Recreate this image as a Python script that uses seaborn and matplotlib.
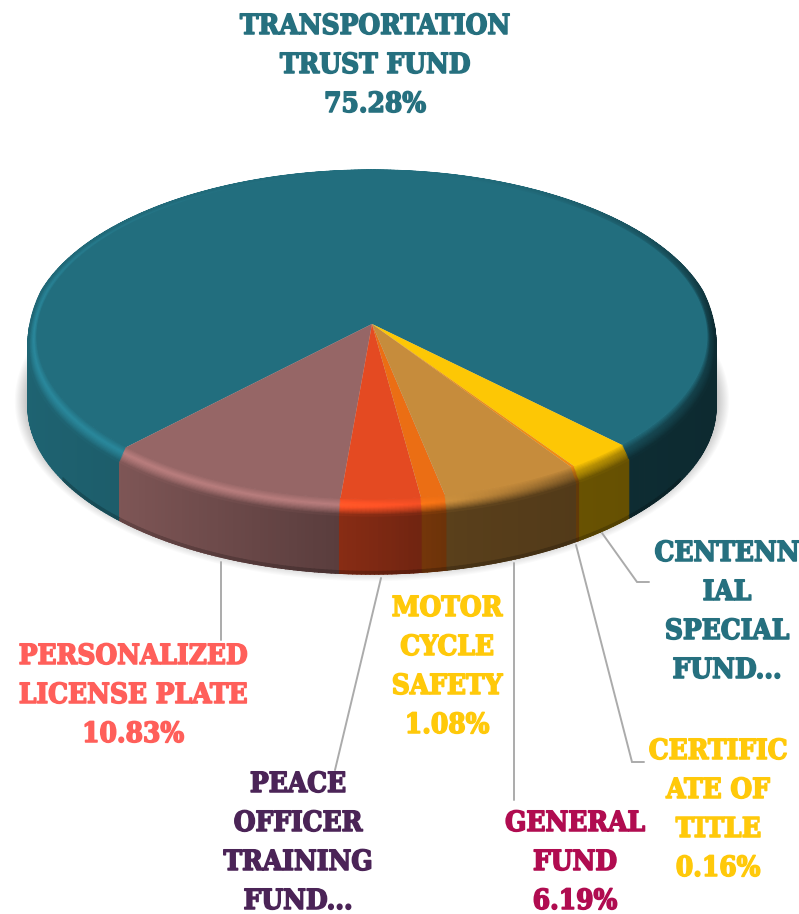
#!/usr/bin/env python3
import numpy as np
import matplotlib
matplotlib.use("Agg")
import matplotlib.pyplot as plt
import matplotlib.patheffects as pe
import seaborn as sns
from matplotlib.collections import PolyCollection
from matplotlib.colors import to_rgb
from matplotlib.transforms import Transform

# data
funds = ["Transportation Trust Fund", "Personalized License Plate",
         "Peace Officer Training Fund", "Motor Cycle Safety", "General Fund",
         "Certificate of Title", "Centennial Special Fund"]
shares = [75.28, 10.83, 3.55, 1.08, 6.19, 0.16, 2.91]
slice_colors = ["#226E7E", "#966666", "#E44A22", "#EB6E14", "#C68C3C", "#F08C14", "#FDC705"]

label_lines = [["TRANSPORTATION", "TRUST FUND", "75.28%"],
               ["PERSONALIZED", "LICENSE PLATE", "10.83%"],
               ["PEACE", "OFFICER", "TRAINING", "FUND..."],
               ["MOTOR", "CYCLE", "SAFETY", "1.08%"],
               ["GENERAL", "FUND", "6.19%"],
               ["CERTIFIC", "ATE OF", "TITLE", "0.16%"],
               ["CENTENN", "IAL", "SPECIAL", "FUND..."]]
label_colors = ["#26707F", "#FF5F5A", "#4B2457", "#FFC90A", "#B00C50", "#FFC90A", "#26707F"]

# layout, in pixels of the picture
label_x = [375, 133, 298, 447, 575, 718, 727]
label_base = [34, 664, 792, 616, 831, 759, 561]
line_step = 39
leaders = [([221, 221], [562, 640]),
           ([381, 335], [578, 770]),
           ([514, 514], [563, 800]),
           ([576, 632, 644], [545, 762, 762]),
           ([602, 637, 649], [533, 582, 582])]

CX, CY, RX, RY = 372, 337, 344, 167
TILT = -0.078       # moves the apex up from the middle of the ellipse
DEPTH = 70
BEVEL = 12
FACE_R = 0.975


def project(xy):
    """Perspective of the unit circle onto the tilted disc."""
    u, s = xy[..., 0], -xy[..., 1]
    den = 1 + TILT * s
    x = CX + RX * u * np.sqrt(1 - TILT ** 2) / den
    y = CY + RY * (s + TILT) / den
    return np.stack([x, y], axis=-1)


class DiscTransform(Transform):
    input_dims = output_dims = 2
    has_inverse = False

    def transform_non_affine(self, values):
        return project(np.asarray(values, dtype=float))


def wall_shade(x):
    return np.interp(x, [30, 125, 340, 450, 580, 716], [0.9, 0.85, 0.6, 0.45, 0.41, 0.38])


def rim_light(x):
    return np.interp(x, [30, 340, 450, 560, 716], [0.24, 0.22, 0.02, -0.25, -0.45])


def circle_points(theta, r):
    return project(np.stack([r * np.cos(theta), r * np.sin(theta)], axis=-1))


def add_band(ax, theta, r0, z0, r1, z1, color_fn, zorder):
    """Strip of small quads between two offset arcs, coloured along x."""
    a = circle_points(theta, r0)
    b = circle_points(theta, r1)
    a[:, 1] += z0(theta)
    b[:, 1] += z1(theta)
    polys = [[a[i], a[i + 1], b[i + 1], b[i]] for i in range(len(theta) - 1)]
    mid = (theta[:-1] + theta[1:]) / 2
    colors = np.clip(color_fn(CX + RX * np.cos(mid), -np.sin(mid)), 0, 1)
    ax.add_collection(PolyCollection(polys, facecolors=colors, edgecolors=colors,
                                     linewidths=0.9, zorder=zorder))


def runs(theta, mask):
    """Contiguous stretches of theta where mask holds."""
    idx = np.flatnonzero(mask)
    if len(idx) < 2:
        return []
    parts = np.split(idx, np.flatnonzero(np.diff(idx) > 1) + 1)
    return [theta[p] for p in parts if len(p) > 1]


sns.set_theme(style="white")
fig, ax = plt.subplots(figsize=(7.99, 9.14))
fig.subplots_adjust(0, 0, 1, 1)

wedges, _ = ax.pie(shares, colors=sns.color_palette(slice_colors), startangle=-45,
                   radius=FACE_R, labeldistance=None)
ax.set_aspect("auto")
ax.set_xlim(0, 799)
ax.set_ylim(914, 0)
ax.axis("off")

to_disc = DiscTransform()
for w in wedges:
    w.set_transform(to_disc + ax.transData)
    w.set_zorder(5)
    w.set_linewidth(0)

# soft shadow under the disc
ring = np.linspace(0, 2 * np.pi, 200)
for k in range(12, 0, -1):
    pts = circle_points(ring, 1.0)
    pts[:, 0] = CX + (pts[:, 0] - CX) * (1 + k * 1.1 / RX)
    pts[:, 1] = CY + (pts[:, 1] - CY) * (1 + k * 1.1 / RY) + DEPTH - 6
    ax.fill(pts[:, 0], pts[:, 1], color="#000000", alpha=0.018, lw=0, zorder=1)

levels = np.linspace(0, 1, 15)


def rim_offset(p):
    return lambda t: BEVEL * p * np.clip(0.5 - 2.5 * np.sin(t), 0, 1)


for w, col in zip(wedges, slice_colors):
    base = np.array(to_rgb(col))
    lo, hi = np.radians(w.theta1), np.radians(w.theta2)
    theta = np.linspace(lo, hi, max(3, int((hi - lo) * 90)))

    def wall_color(x, s, base=base):
        return base[None, :] * wall_shade(x)[:, None]

    def dark_color(x, s, base=base):
        return wall_color(x, s, base) * 0.8

    for part in runs(theta, np.sin(theta) <= 0.03):
        add_band(ax, part, 1.0, rim_offset(1.0), 1.0, lambda t: np.full_like(t, float(DEPTH)),
                 wall_color, 2)
    for part in runs(theta, np.sin(theta) <= -0.5):
        add_band(ax, part, 1.0, lambda t: np.full_like(t, DEPTH - 2.5), 1.0,
                 lambda t: np.full_like(t, float(DEPTH)), dark_color, 2.5)

    # bevel between the face and the wall
    for p0, p1 in zip(levels[:-1], levels[1:]):
        def rim_color(x, s, p=(p0 + p1) / 2, base=base):
            wall = base[None, :] * wall_shade(x)[:, None]
            lit = base[None, :] * (1 + rim_light(x))[:, None]
            if p < 0.4:
                c = base + (lit - base) * (p / 0.4)
            else:
                c = lit + (wall - lit) * ((p - 0.4) / 0.6) ** 1.3
            fade = np.clip(1 + s, 0, 1)[:, None]
            return base + (c - base) * fade

        add_band(ax, theta, FACE_R + (1 - FACE_R) * p0, rim_offset(p0),
                 FACE_R + (1 - FACE_R) * p1, rim_offset(p1), rim_color, 3 + p0)

# leader lines
for xs, ys in leaders:
    ax.plot(xs, ys, color="#ABABAB", lw=1.4, solid_joinstyle="miter", zorder=6)

# labels
for lines, x, y, col in zip(label_lines, label_x, label_base, label_colors):
    for i, line in enumerate(lines):
        ax.text(x, y + i * line_step, line, color=col, ha="center", va="baseline",
                family="DejaVu Serif", fontweight="bold", fontstretch="condensed",
                fontsize=20, zorder=7,
                path_effects=[pe.withStroke(linewidth=1.1, foreground=col)])

fig.savefig("out.png", dpi=100)
